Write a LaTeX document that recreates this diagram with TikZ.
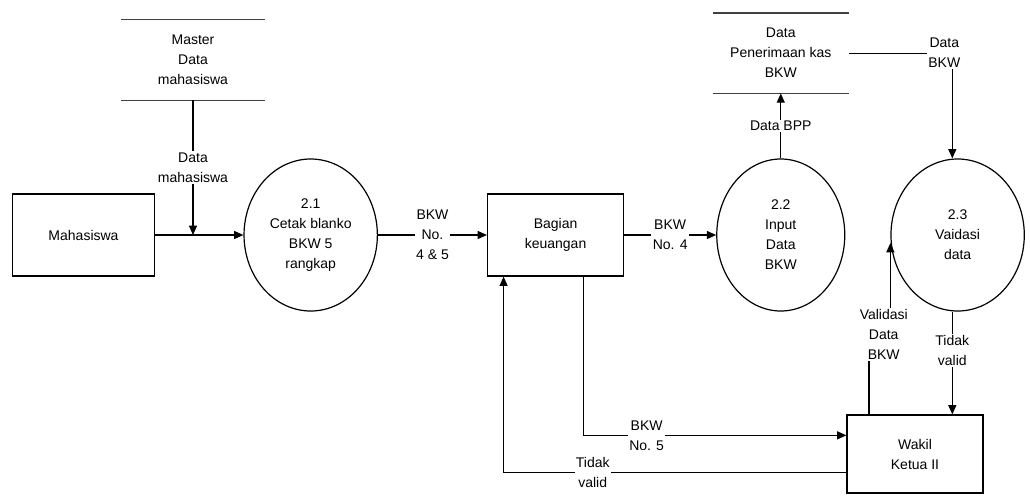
\documentclass[tikz,border=0pt]{standalone}
\usepackage{fontspec}
\setmainfont{Liberation Sans}
\usepackage{tikz}
\usetikzlibrary{arrows.meta,positioning,shapes.geometric}
\tikzset{every node/.append style={align=center}}

\begin{document}
\begin{tikzpicture}[x=0.75pt, y=-0.75pt, every node/.style={font=\fontsize{10.5}{15}\selectfont,align=center}, >={Triangle[length=7pt,width=6pt]},
  entity/.style={draw, line width=0.9pt, minimum width=107pt, minimum height=61.5pt, inner sep=0pt},
  proc/.style={draw, line width=0.9pt, ellipse, minimum width=100pt, minimum height=114pt, inner sep=0pt},
  store/.style={minimum width=107pt, minimum height=60pt, inner sep=0pt},
  flow/.style={->, line width=0.9pt},
  lbl/.style={fill=white, inner sep=1pt}]
  \useasboundingbox (0,0) rectangle (1030,497);
  \node[entity] (mhs) at (83.5,235) {Mahasiswa};
  \node[proc, right=66pt of mhs] (c21) {2.1\\Cetak blanko\\BKW 5\\rangkap};
  \node[entity, right=81.75pt of c21, minimum width=102pt] (bgn) {Bagian\\keuangan};
  \node[proc, right=69pt of bgn, minimum width=96pt] (c22) {2.2\\Input\\Data\\BKW};
  \node[proc, right=33.75pt of c22] (c23) {2.3\\Vaidasi\\data};
  \node[store] (mst) at (193,60) {Master\\Data\\mahasiswa};
  \node[store, above=48.75pt of c22, minimum width=102pt] (pkb) {Data\\Penerimaan kas\\BKW};
  \node[entity, minimum width=102pt, minimum height=58.5pt] (wkl) at (915,454) {Wakil\\Ketua II};
  % garis data store
  \draw[line width=1.1pt, black!75] (mst.north west) -- (mst.north east) (mst.south west) -- (mst.south east);
  \draw[line width=1.1pt, black!75] (pkb.north west) -- (pkb.north east) (pkb.south west) -- (pkb.south east);
  \coordinate (b1) at ([xshift=21pt]bgn.south);
  \coordinate (b2) at ([xshift=-39pt]bgn.south);
  \coordinate (v1) at ([xshift=17pt]wkl.north west);
  \coordinate (t1) at ([xshift=-4pt]c23.north);
  \coordinate (t2) at ([xshift=-4pt]c23.south);
  \draw[flow] (mhs) -- (c21);
  \draw[flow] (mst.south) -- node[lbl]{Data\\mahasiswa} (mst.south |- mhs.east);
  \draw[flow] (c21) -- node[lbl]{BKW\\No.\\4 \& 5} (bgn);
  \draw[flow] (bgn) -- node[lbl]{BKW\\No. 4} (c22);
  \draw[flow] (c22.north) -- node[lbl]{Data BPP} (pkb.south);
  \draw[flow] (pkb.east) -- (t1 |- pkb.east) node[lbl, xshift=-6pt]{Data\\BKW} -- (t1);
  \draw[flow] (t2) -- node[lbl, pos=0.38]{Tidak\\valid} (t2 |- wkl.north);
  \draw[flow] (v1) -- ++(0,-80) node[lbl, xshift=11pt]{Validasi\\Data\\BKW} -| ([yshift=-6pt]c23.west);
  \draw[flow] (b1) |- node[lbl, pos=0.62]{BKW\\No. 5} ([yshift=14pt]wkl.west);
  \draw[flow] ([yshift=-14pt]wkl.west) -| node[lbl, pos=0.37]{Tidak\\valid} (b2);
\end{tikzpicture}
\end{document}
